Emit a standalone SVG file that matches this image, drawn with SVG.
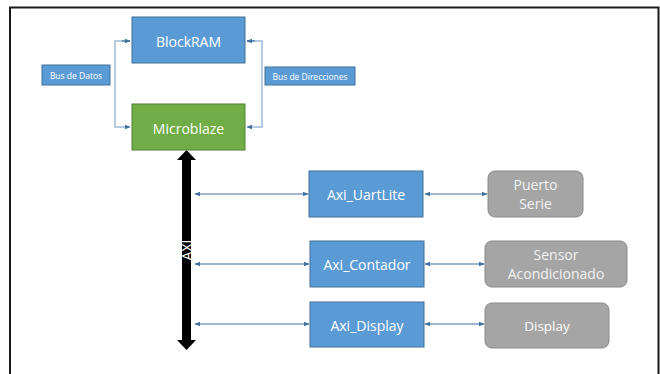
<svg xmlns="http://www.w3.org/2000/svg" width="660" height="374" viewBox="0 0 660 374">
<defs>
<style>
.blue{fill:#5B9BD5;stroke:#41719C;stroke-width:1}
.green{fill:#70AD47;stroke:#507E32;stroke-width:1}
.gray{fill:#A5A5A5;stroke:#8A8A8A;stroke-width:1}
.t{font-family:"Open Sans","Liberation Sans",sans-serif;fill:#fff;text-anchor:middle;dominant-baseline:central}
.tg{font-family:"Open Sans","Liberation Sans",sans-serif;fill:#f2f2f2;text-anchor:middle}
.bus{fill:none;stroke:#9DB9DA;stroke-width:1.5}
.conn{fill:none;stroke:#41719C;stroke-width:1.2}
</style>
<marker id="ah" viewBox="0 0 10 10" refX="9" refY="5" markerWidth="6" markerHeight="6" orient="auto-start-reverse" markerUnits="userSpaceOnUse">
<path d="M0,1 L10,5 L0,9 z" fill="#41719C"/>
</marker>
</defs>
<rect x="0" y="0" width="660" height="374" fill="#fff"/>
<path d="M10,374 V7.5 H658.5 V374" fill="none" stroke="#1a1a1a" stroke-width="2"/>

<g id="connectors">
<path class="bus" d="M130,41 H115 V127 H130" marker-end="url(#ah)"/>
<path d="M122,41 H130" class="conn" marker-end="url(#ah)"/>
<path class="bus" d="M247,41 H262 V127 H247" marker-end="url(#ah)"/>
<path d="M255,41 H247" class="conn" marker-end="url(#ah)"/>
<path class="conn" d="M195,194 H308" marker-start="url(#ah)" marker-end="url(#ah)"/>
<path class="conn" d="M195,264 H309" marker-start="url(#ah)" marker-end="url(#ah)"/>
<path class="conn" d="M195,324 H309" stroke-width="1.6" marker-start="url(#ah)" marker-end="url(#ah)"/>
<path class="conn" d="M425,194 H487" marker-start="url(#ah)" marker-end="url(#ah)"/>
<path class="conn" d="M425,264 H484" marker-start="url(#ah)" marker-end="url(#ah)"/>
<path class="conn" d="M425,324 H484" marker-start="url(#ah)" marker-end="url(#ah)"/>
</g>

<g id="axi">
<polygon points="186.5,150 196,160 191,160 191,340 196,340 186.5,350 177,340 182,340 182,160 177,160" fill="#000"/>
<text class="t" x="186.5" y="250" font-size="14" transform="rotate(-90 186.5 250)">AXI</text>
</g>

<g id="blockram">
<rect class="blue" x="132" y="17" width="113" height="46"/>
<text class="t" x="188.5" y="41" font-size="14">BlockRAM</text>
</g>
<g id="microblaze">
<rect class="green" x="132" y="104" width="113" height="46"/>
<text class="t" x="188.5" y="128" font-size="14">Microblaze</text>
</g>
<g id="busdatos">
<rect class="blue" x="42" y="65" width="68" height="20"/>
<text class="t" x="76" y="75.5" font-size="8.5">Bus de Datos</text>
</g>
<g id="busdirecciones">
<rect class="blue" x="265" y="67" width="90" height="18"/>
<text class="t" x="310" y="76.5" font-size="8.5">Bus de Direcciones</text>
</g>

<g id="axi_uartlite">
<rect class="blue" x="309" y="171" width="114" height="46"/>
<text class="t" x="366" y="194.5" font-size="14">Axi_UartLite</text>
</g>
<g id="axi_contador">
<rect class="blue" x="310" y="241" width="114" height="46"/>
<text class="t" x="367" y="264.5" font-size="14">Axi_Contador</text>
</g>
<g id="axi_display">
<rect class="blue" x="310" y="302" width="114" height="45"/>
<text class="t" x="367" y="325" font-size="14">Axi_Display</text>
</g>

<g id="puerto_serie">
<rect class="gray" x="488" y="171" width="95" height="46" rx="7"/>
<text class="tg" x="535.5" y="190" font-size="14">Puerto</text>
<text class="tg" x="535.5" y="209" font-size="14">Serie</text>
</g>
<g id="sensor">
<rect class="gray" x="485" y="241" width="142" height="46" rx="7"/>
<text class="tg" x="556" y="260" font-size="14">Sensor</text>
<text class="tg" x="556" y="279" font-size="14">Acondicionado</text>
</g>
<g id="display">
<rect class="gray" x="485" y="303" width="124" height="45" rx="7"/>
<text class="t" x="547" y="326" font-size="13.5">Display</text>
</g>
</svg>
